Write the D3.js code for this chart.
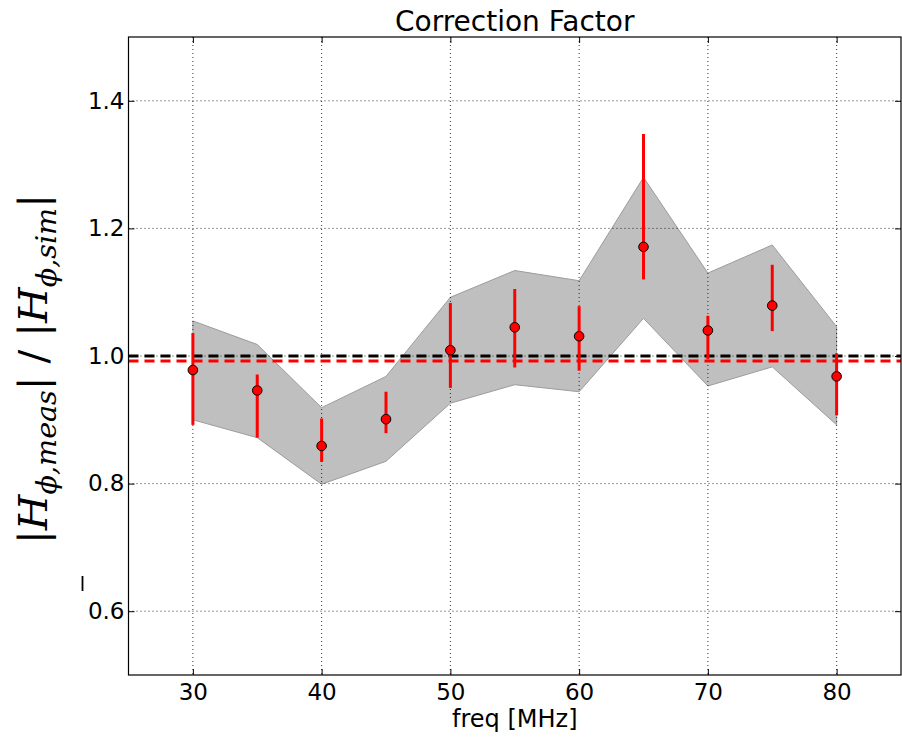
<!DOCTYPE html>
<html>
<head>
<meta charset="utf-8">
<script src="https://cdn.jsdelivr.net/npm/d3@7/dist/d3.min.js"></script>
<style>
  html, body { margin: 0; padding: 0; background: #fff; }
  svg { display: block; }
</style>
</head>
<body>
<svg id="chart" width="902" height="739"></svg>
<script>
// ---- data ----
const freqs      = [30, 35, 40, 45, 50, 55, 60, 65, 70, 75, 80];
const ratio      = [0.978, 0.946, 0.859, 0.901, 1.009, 1.045, 1.031, 1.171, 1.040, 1.079, 0.968];
const errLow     = [0.892, 0.872, 0.834, 0.879, 0.950, 0.982, 0.977, 1.120, 0.995, 1.039, 0.907];
const errHigh    = [1.036, 0.971, 0.902, 0.944, 1.083, 1.105, 1.078, 1.348, 1.063, 1.143, 1.004];
const bandLow    = [0.900, 0.872, 0.799, 0.835, 0.926, 0.955, 0.944, 1.059, 0.953, 0.983, 0.892];
const bandHigh   = [1.055, 1.018, 0.919, 0.968, 1.092, 1.134, 1.118, 1.280, 1.130, 1.174, 1.046];
const refLine    = 1.0;
const meanLine   = 0.992;
const xTicks     = [30, 40, 50, 60, 70, 80];
const yTicks     = [0.6, 0.8, 1.0, 1.2, 1.4];
const xDomain    = [25, 85];
const yDomain    = [0.5, 1.5];

// ---- layout ----
const L = 128.5, R = 901, T = 37, B = 675;
const svg = d3.select("#chart");
const x = d3.scaleLinear().domain(xDomain).range([L, R]);
const y = d3.scaleLinear().domain(yDomain).range([B, T]);
const font = "'DejaVu Sans', sans-serif";

const rows = freqs.map((f, i) => ({f, v: ratio[i], lo: errLow[i], hi: errHigh[i], bl: bandLow[i], bh: bandHigh[i]}));

// band
const area = d3.area().x(d => x(d.f)).y0(d => y(d.bl)).y1(d => y(d.bh));
svg.append("path").datum(rows).attr("d", area)
  .attr("fill", "#bfbfbf").attr("stroke", "#9c9c9c").attr("stroke-width", 1);

// grid
const grid = svg.append("g").attr("stroke", "#000").attr("stroke-width", 0.8).attr("stroke-dasharray", "1,3");
grid.selectAll("line.gx").data(xTicks).join("line")
  .attr("x1", d => x(d)).attr("x2", d => x(d)).attr("y1", T).attr("y2", B);
grid.selectAll("line.gy").data(yTicks).join("line")
  .attr("y1", d => y(d)).attr("y2", d => y(d)).attr("x1", L).attr("x2", R);

// reference lines
svg.append("line").attr("x1", L).attr("x2", R).attr("y1", y(refLine)).attr("y2", y(refLine))
  .attr("stroke", "#000").attr("stroke-width", 3).attr("stroke-dasharray", "10,6");
svg.append("line").attr("x1", L).attr("x2", R).attr("y1", y(meanLine)).attr("y2", y(meanLine))
  .attr("stroke", "#ff0000").attr("stroke-width", 3).attr("stroke-dasharray", "10,6");

// error bars
svg.append("g").selectAll("line").data(rows).join("line")
  .attr("x1", d => x(d.f)).attr("x2", d => x(d.f))
  .attr("y1", d => y(d.lo)).attr("y2", d => y(d.hi))
  .attr("stroke", "#ff0000").attr("stroke-width", 3);

// markers
svg.append("g").selectAll("circle").data(rows).join("circle")
  .attr("cx", d => x(d.f)).attr("cy", d => y(d.v)).attr("r", 4.8)
  .attr("fill", "#ff0000").attr("stroke", "#000").attr("stroke-width", 1);

// axes
function styleAxis(g, showText) {
  g.select(".domain").remove();
  g.selectAll(".tick line").attr("stroke", "#000").attr("stroke-width", 1);
  g.selectAll(".tick text").attr("font-family", font).attr("font-size", 23).attr("fill", "#000");
  if (!showText) g.selectAll(".tick text").remove();
}
svg.append("g").attr("transform", `translate(0,${B})`)
  .call(d3.axisBottom(x).tickValues(xTicks).tickFormat(d3.format("d")).tickSize(-6).tickPadding(9))
  .call(g => styleAxis(g, true));
svg.append("g").attr("transform", `translate(0,${T})`)
  .call(d3.axisTop(x).tickValues(xTicks).tickSize(-6))
  .call(g => styleAxis(g, false));
svg.append("g").attr("transform", `translate(${L},0)`)
  .call(d3.axisLeft(y).tickValues(yTicks).tickFormat(d3.format(".1f")).tickSize(-6).tickPadding(4))
  .call(g => styleAxis(g, true));
svg.append("g").attr("transform", `translate(${R},0)`)
  .call(d3.axisRight(y).tickValues(yTicks).tickSize(-6))
  .call(g => styleAxis(g, false));

// frame
svg.append("rect").attr("x", L).attr("y", T).attr("width", R - L).attr("height", B - T)
  .attr("fill", "none").attr("stroke", "#000").attr("stroke-width", 1.2);

// title
svg.append("text").attr("x", (L + R) / 2).attr("y", 31).attr("text-anchor", "middle")
  .attr("font-family", font).attr("font-size", 28).text("Correction Factor");

// x label
svg.append("text").attr("x", (L + R) / 2).attr("y", 727).attr("text-anchor", "middle")
  .attr("font-family", font).attr("font-size", 24).text("freq [MHz]");

// y label (math text)
const yl = svg.append("text").attr("transform", "translate(47,369) rotate(-90)")
  .attr("text-anchor", "middle").attr("font-family", "'DejaVu Serif', serif").attr("font-size", 40)
  .attr("textLength", 350).attr("lengthAdjust", "spacingAndGlyphs");
const parts = [
  {t: "|", it: false}, {t: "H", it: true}, {t: "ϕ,meas", it: true, sub: true},
  {t: "|", it: false}, {t: " / ", it: false}, {t: "|", it: false}, {t: "H", it: true},
  {t: "ϕ,sim", it: true, sub: true}, {t: "|", it: false}
];
let subActive = false;
parts.forEach(p => {
  const ts = yl.append("tspan").text(p.t).attr("font-style", p.it ? "italic" : "normal");
  if (p.sub && !subActive) { ts.attr("dy", 9).attr("font-size", 28); subActive = true; }
  else if (!p.sub && subActive) { ts.attr("dy", -9); subActive = false; }
});

// stray glyph mark near the axis label
svg.append("line").attr("x1", 82.5).attr("x2", 82.5).attr("y1", 576).attr("y2", 591)
  .attr("stroke", "#000").attr("stroke-width", 1.8);
</script>
</body>
</html>
